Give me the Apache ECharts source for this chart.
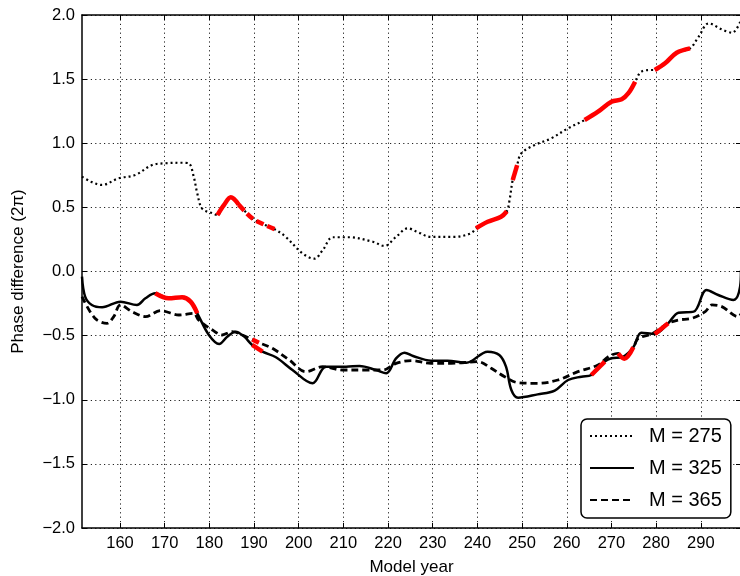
<!DOCTYPE html>
<html>
<head>
<meta charset="utf-8">
<script src="https://cdn.jsdelivr.net/npm/echarts@6/dist/echarts.min.js"></script>
<style>html,body{margin:0;padding:0;background:#fff}#c{width:740px;height:576px}</style>
</head>
<body>
<div id="c"></div>
<script>
const xTicks = [160,170,180,190,200,210,220,230,240,250,260,270,280,290];
const yTicks = [-2.0,-1.5,-1.0,-0.5,0.0,0.5,1.0,1.5,2.0];
const seriesNames = ['M = 275','M = 325','M = 365'];

const years275 = [151.5,153.5,156,159.7,163.4,167.2,170.2,173.9,175.4,176.5,177.3,178.4,180.7,181.8,183.3,184.8,186.6,189.6,192,194.6,197.1,200.9,203.5,205.4,207.6,211.3,216.6,219.2,221.8,224.4,226.5,229.6,234.8,238.6,239.7,242.3,245.3,246.6,247.2,247.9,248.9,249.8,252.8,256.5,260.3,264.0,267.0,270.0,272.3,273.8,275.3,276.7,279.0,279.7,282.0,284.6,287.6,289.5,291.8,294.7,297.0,299];
const vals275  = [0.74,0.70,0.675,0.727,0.752,0.83,0.844,0.848,0.844,0.74,0.61,0.49,0.454,0.44,0.52,0.578,0.52,0.415,0.37,0.33,0.27,0.14,0.10,0.168,0.267,0.267,0.232,0.199,0.27,0.337,0.31,0.27,0.27,0.298,0.337,0.388,0.427,0.47,0.557,0.713,0.83,0.92,0.986,1.038,1.117,1.181,1.246,1.324,1.343,1.39,1.48,1.558,1.571,1.571,1.623,1.706,1.74,1.83,1.935,1.888,1.862,1.96];

const years325 = [151.5,152.2,153.7,156.0,160.1,163.8,165.7,167.9,170.9,173.9,175.8,177.3,179.9,182.2,184.0,185.9,187.8,189.6,191.9,194.9,198.6,203.1,206.1,210.6,213.6,217.3,219.6,221.8,223.7,225.6,229.6,233.3,237.5,242.3,244.9,246.4,247.6,249.1,253.5,257.3,260.3,263.3,265.5,268.5,270.0,272.6,274.9,276.7,279.7,282.7,285.0,288.4,291.3,293.9,297.3,298.8,299];
const vals325  = [-0.04,-0.196,-0.261,-0.279,-0.235,-0.261,-0.209,-0.17,-0.209,-0.201,-0.235,-0.326,-0.495,-0.565,-0.508,-0.469,-0.508,-0.573,-0.625,-0.669,-0.768,-0.872,-0.742,-0.742,-0.737,-0.768,-0.794,-0.677,-0.633,-0.659,-0.695,-0.695,-0.711,-0.625,-0.651,-0.742,-0.924,-0.984,-0.958,-0.929,-0.846,-0.820,-0.807,-0.703,-0.677,-0.665,-0.591,-0.477,-0.487,-0.404,-0.321,-0.313,-0.144,-0.183,-0.222,-0.118,0.01];

const years365 = [151.5,154.4,157.1,158.6,160.1,162.7,165.7,169.1,173.2,176.5,177.6,180.7,182.9,185.1,187.4,189.6,191.1,194.1,197.9,201.6,205.4,209.8,215.1,218.8,221.8,225.2,229.6,234.1,240.1,243.1,246.1,249.1,253.5,258.0,262.5,267.0,269.3,271.5,272.9,274.9,276.0,279.0,282.7,285.0,288.0,291.0,292.5,294.7,298.4,299];
const vals365  = [-0.196,-0.365,-0.404,-0.352,-0.261,-0.313,-0.352,-0.305,-0.339,-0.326,-0.378,-0.456,-0.495,-0.469,-0.495,-0.53,-0.555,-0.599,-0.69,-0.781,-0.742,-0.768,-0.768,-0.768,-0.716,-0.695,-0.716,-0.716,-0.703,-0.755,-0.820,-0.867,-0.872,-0.846,-0.781,-0.729,-0.664,-0.638,-0.68,-0.591,-0.521,-0.487,-0.404,-0.378,-0.365,-0.313,-0.261,-0.274,-0.352,-0.33];

// highlighted (red) year ranges
const red275 = [[181.8,186.6],[186.6,194.6],[239.7,246.6],[247.9,248.9],[264.0,275.3],[279.7,287.6]];
const red325 = [[167.9,177.3],[189.6,191.9],[265.5,268.5],[279.7,282.7]];
const red365 = [[189.6,191.1],[271.5,274.9]];

function pairs(xs, ys){ return xs.map((x,i)=>[x, ys[i]]); }
function seg(xs, ys, a, b){ return pairs(xs, ys).filter(p => p[0] >= a - 1e-9 && p[0] <= b + 1e-9); }

const FONT = 'Liberation Sans, Arial, Helvetica, sans-serif';
const SM = 0.35;

const base = [
  {name: seriesNames[0], xs: years275, ys: vals275, red: red275, lineType: [2,3], width: 2.2},
  {name: seriesNames[1], xs: years325, ys: vals325, red: red325, lineType: 'solid', width: 2.5},
  {name: seriesNames[2], xs: years365, ys: vals365, red: red365, lineType: [7,4], width: 2.8}
];

const series = [];
base.forEach(b => {
  series.push({
    name: b.name, type: 'line', data: pairs(b.xs, b.ys), smooth: SM,
    symbol: 'none', showSymbol: false, z: 2,
    lineStyle: {color: '#000', width: b.width, type: b.lineType},
    itemStyle: {color: '#000'}
  });
});
base.forEach((b, k) => {
  b.red.forEach((r, j) => {
    const dashed = (k === 0 && j === 1);
    series.push({
      name: 'red' + k + '_' + j, type: 'line', data: seg(b.xs, b.ys, r[0], r[1]), smooth: SM,
      symbol: 'none', showSymbol: false, z: 4, silent: true,
      lineStyle: {color: '#ff0000', width: 4.5, type: dashed ? [8,4] : 'solid', cap: 'butt'},
      itemStyle: {color: '#ff0000'}
    });
  });
});

const chart = echarts.init(document.getElementById('c'), null, {renderer: 'canvas'});
chart.setOption({
  animation: false,
  backgroundColor: '#fff',
  grid: {left: 82, right: -1, top: 15, bottom: 48, containLabel: false, outerBoundsMode: 'none'},
  xAxis: [{
    type: 'value', min: 151.5, max: 299, position: 'bottom',
    axisLine: {show: true, onZero: false, lineStyle: {color: '#000', width: 1.5}},
    axisTick: {show: true, inside: true, length: 5, customValues: xTicks, lineStyle: {color: '#000', width: 1}},
    axisLabel: {customValues: xTicks, fontSize: 16.5, color: '#000', margin: 7, fontFamily: FONT},
    splitLine: {show: true, lineStyle: {color: '#222', width: 1, type: [1.2, 3.2]}},
    name: 'Model year', nameLocation: 'middle', nameGap: 31,
    nameTextStyle: {fontSize: 17, color: '#000', fontFamily: FONT}
  }, {
    type: 'value', min: 151.5, max: 299, position: 'top',
    axisLine: {show: true, onZero: false, lineStyle: {color: '#000', width: 1.5}},
    axisTick: {show: true, inside: true, length: 5, customValues: xTicks, lineStyle: {color: '#000', width: 1}},
    axisLabel: {show: false, customValues: xTicks},
    splitLine: {show: false}
  }],
  yAxis: [{
    type: 'value', min: -2, max: 2, interval: 0.5, position: 'left',
    axisLine: {show: true, onZero: false, lineStyle: {color: '#000', width: 1.5}},
    axisTick: {show: true, inside: true, length: 5, lineStyle: {color: '#000', width: 1}},
    axisLabel: {fontSize: 16.5, color: '#000', margin: 7, fontFamily: FONT,
      formatter: v => (v < 0 ? '\u2212' : '') + Math.abs(v).toFixed(1)},
    splitLine: {show: true, lineStyle: {color: '#222', width: 1, type: [1.2, 3.2]}},
    name: 'Phase difference (2\u03c0)', nameLocation: 'middle', nameGap: 55,
    nameTextStyle: {fontSize: 17, color: '#000', fontFamily: FONT}
  }, {
    type: 'value', min: -2, max: 2, interval: 0.5, position: 'right',
    axisLine: {show: true, onZero: false, lineStyle: {color: '#000', width: 1.5}},
    axisTick: {show: true, inside: true, length: 5, lineStyle: {color: '#000', width: 1}},
    axisLabel: {show: false},
    splitLine: {show: false}
  }],
  legend: {
    data: seriesNames, orient: 'vertical', left: 581, top: 419, align: 'left',
    itemWidth: 44, itemHeight: 14, itemGap: 12,
    itemStyle: {opacity: 0, borderWidth: 0},
    backgroundColor: '#fff', borderColor: '#000', borderWidth: 1.5, borderRadius: 6,
    padding: [7, 9, 8, 8],
    textStyle: {fontSize: 20, color: '#000', fontFamily: FONT, lineHeight: 20, padding: [0, 0, 0, 10]}
  },
  series: series
});
</script>
</body>
</html>
